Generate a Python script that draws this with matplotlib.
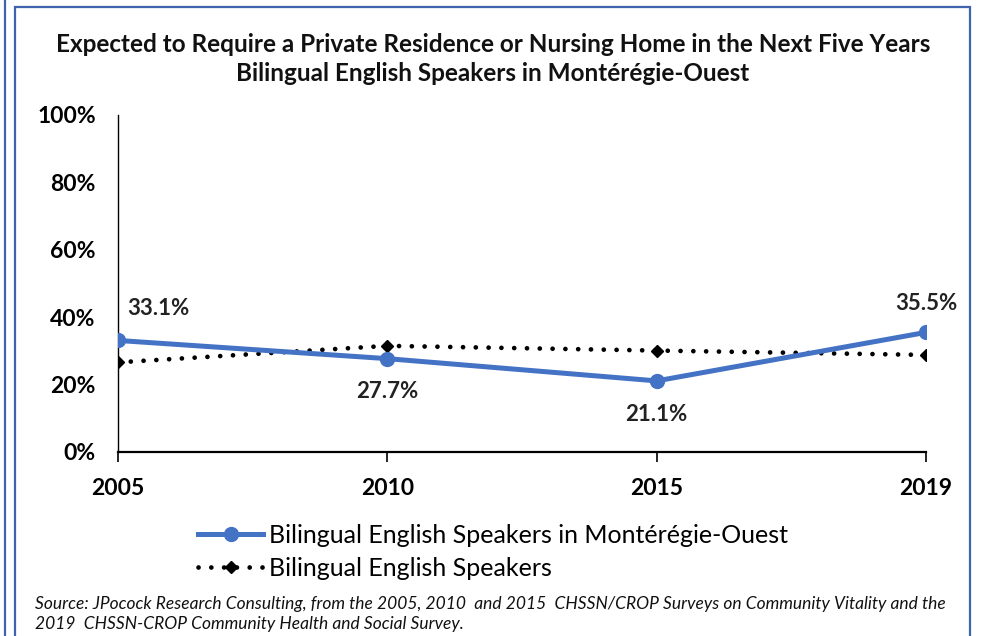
import matplotlib
matplotlib.use("Agg")
import matplotlib.pyplot as plt
from matplotlib.lines import Line2D
from matplotlib.patches import Rectangle

plt.rcParams['font.family'] = ['Lato', 'DejaVu Sans']

years = ['2005', '2010', '2015', '2019']
monteregie = [33.1, 27.7, 21.1, 35.5]
bilingual = [26.6, 31.5, 30.1, 28.8]
y_ticks = [0, 20, 40, 60, 80, 100]

title = ('Expected to Require a Private Residence or Nursing Home in the Next Five Years\n'
         'Bilingual English Speakers in Montérégie-Ouest')
source = ('Source: JPocock Research Consulting, from the 2005, 2010  and 2015  CHSSN/CROP Surveys on Community Vitality and the\n'
          '2019  CHSSN-CROP Community Health and Social Survey.')

W, H = 981, 636
blue = '#4472C4'
frame_blue = '#3F63AD'

fig = plt.figure(figsize=(W / 100, H / 100), dpi=100)

# outer frame lines
fig.add_artist(Rectangle((15 / W, -0.05), 955 / W, 1.05 - 7 / H, transform=fig.transFigure,
                         fill=False, edgecolor=frame_blue, linewidth=1.6))
fig.add_artist(Line2D([4.5 / W, 4.5 / W], [0, 1], transform=fig.transFigure,
                      color=frame_blue, linewidth=1.6))

ax = fig.add_axes([118 / W, 1 - 452 / H, (926 - 118) / W, (452 - 115) / H])
x = list(range(len(years)))

ax.plot(x, bilingual, color='black', linewidth=3.4, linestyle=(0, (0.01, 2.7)),
        dash_capstyle='round', marker='D', markersize=6, label='Bilingual English Speakers',
        zorder=2)
ax.plot(x, monteregie, color=blue, linewidth=3.6, marker='o', markersize=10,
        label='Bilingual English Speakers in Montérégie-Ouest', zorder=3)

# value labels on the blue series
offsets = [(7, 23), (0, -24), (0, -24), (0, 21)]
aligns = ['left', 'center', 'center', 'center']
for xi, v, off, ha in zip(x, monteregie, offsets, aligns):
    ax.annotate(f'{v:.1f}%', (xi, v), xytext=off, textcoords='offset points',
                ha=ha, va='center', fontsize=16, fontweight='bold', color='#222222')

ax.set_xlim(0, len(years) - 1)
ax.set_ylim(0, 100)
ax.set_xticks(x)
ax.set_xticklabels(years, fontsize=16.5, fontweight='bold')
ax.set_yticks(y_ticks)
ax.set_yticklabels([f'{t}%' for t in y_ticks], fontsize=16.5, fontweight='bold')
ax.tick_params(axis='y', length=0, pad=16)
ax.tick_params(axis='x', length=7, width=1.2, pad=12, direction='out')
for side in ['top', 'right']:
    ax.spines[side].set_visible(False)
ax.spines['bottom'].set_linewidth(1.6)
ax.spines['left'].set_linewidth(1.0)

fig.text(493 / W, 1 - 59 / H, title, ha='center', va='center', fontsize=17.5,
         fontweight='bold', linespacing=1.32, color='#111111')

handles, labels = ax.get_legend_handles_labels()
fig.legend(handles[::-1], labels[::-1], loc='upper left',
           bbox_to_anchor=(198 / W, 1 - 524 / H), frameon=False, fontsize=18,
           handlelength=2.6, handletextpad=0.25, labelspacing=0.38, borderaxespad=0,
           borderpad=0)

fig.text(35 / W, 1 - 614 / H, source, ha='left', va='center', fontsize=12.5,
         fontstyle='italic', linespacing=1.25, color='#111111')

fig.savefig('out.png', dpi=100)
